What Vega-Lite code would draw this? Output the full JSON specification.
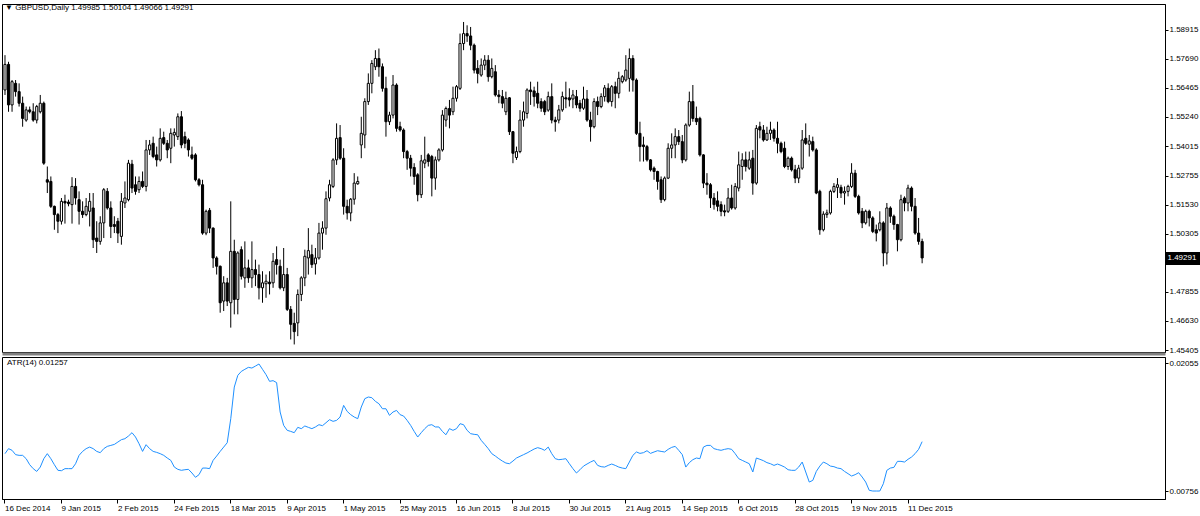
{
"$schema":"https://vega.github.io/schema/vega-lite/v6.json",
"background":"white",
"padding":{"left":1,"top":3,"right":0,"bottom":0},
"spacing":1,
"config":{"view":{"stroke":"#000","strokeWidth":1},"font":"Liberation Sans","title":{"font":"Liberation Sans","fontSize":8,"fontWeight":"normal","color":"#000","anchor":"start","frame":"group"}},
"datasets":{"pad":["2015-12-18","2015-12-21","2015-12-22","2015-12-23","2015-12-24","2015-12-25","2015-12-28","2015-12-29","2015-12-30","2015-12-31"]},
"data":{"values":[
{"d":"2014-12-16","o":1.5638,"h":1.5785,"l":1.5617,"c":1.5746,"a":0.01135},
{"d":"2014-12-17","o":1.5746,"h":1.5757,"l":1.5546,"c":1.5575,"a":0.01186},
{"d":"2014-12-18","o":1.5575,"h":1.5680,"l":1.5546,"c":1.5673,"a":0.01169},
{"d":"2014-12-19","o":1.5666,"h":1.5680,"l":1.5610,"c":1.5631,"a":0.01125},
{"d":"2014-12-22","o":1.5631,"h":1.5666,"l":1.5568,"c":1.5582,"a":0.01118},
{"d":"2014-12-23","o":1.5582,"h":1.5610,"l":1.5483,"c":1.5518,"a":0.01118},
{"d":"2014-12-24","o":1.5511,"h":1.5568,"l":1.5504,"c":1.5554,"a":0.01084},
{"d":"2014-12-26","o":1.5554,"h":1.5568,"l":1.5539,"c":1.5546,"a":0.01023},
{"d":"2014-12-29","o":1.5546,"h":1.5582,"l":1.5504,"c":1.5511,"a":0.00983},
{"d":"2014-12-30","o":1.5511,"h":1.5575,"l":1.5497,"c":1.5568,"a":0.00955},
{"d":"2014-12-31","o":1.5546,"h":1.5617,"l":1.5539,"c":1.5582,"a":0.00999},
{"d":"2015-01-02","o":1.5582,"h":1.5589,"l":1.5322,"c":1.5329,"a":0.01084},
{"d":"2015-01-05","o":1.5259,"h":1.5315,"l":1.5203,"c":1.5249,"a":0.01135},
{"d":"2015-01-06","o":1.5252,"h":1.5273,"l":1.5140,"c":1.5147,"a":0.01084},
{"d":"2015-01-07","o":1.5147,"h":1.5150,"l":1.5048,"c":1.5112,"a":0.01023},
{"d":"2015-01-08","o":1.5112,"h":1.5119,"l":1.5034,"c":1.5084,"a":0.00966},
{"d":"2015-01-09","o":1.5084,"h":1.5182,"l":1.5070,"c":1.5168,"a":0.00962},
{"d":"2015-01-12","o":1.5168,"h":1.5196,"l":1.5074,"c":1.5161,"a":0.00983},
{"d":"2015-01-13","o":1.5165,"h":1.5175,"l":1.5147,"c":1.5158,"a":0.00983},
{"d":"2015-01-14","o":1.5154,"h":1.5270,"l":1.5074,"c":1.5231,"a":0.00983},
{"d":"2015-01-15","o":1.5231,"h":1.5266,"l":1.5154,"c":1.5182,"a":0.01033},
{"d":"2015-01-16","o":1.5175,"h":1.5210,"l":1.5070,"c":1.5126,"a":0.01118},
{"d":"2015-01-19","o":1.5126,"h":1.5168,"l":1.5098,"c":1.5112,"a":0.01158},
{"d":"2015-01-20","o":1.5112,"h":1.5182,"l":1.5105,"c":1.5147,"a":0.01186},
{"d":"2015-01-21","o":1.5126,"h":1.5203,"l":1.5062,"c":1.5168,"a":0.01202},
{"d":"2015-01-22","o":1.5140,"h":1.5203,"l":1.4971,"c":1.5006,"a":0.01186},
{"d":"2015-01-23","o":1.5013,"h":1.5084,"l":1.4950,"c":1.4999,"a":0.01158},
{"d":"2015-01-26","o":1.4999,"h":1.5105,"l":1.4985,"c":1.5077,"a":0.01145},
{"d":"2015-01-27","o":1.5077,"h":1.5224,"l":1.5013,"c":1.5217,"a":0.01186},
{"d":"2015-01-28","o":1.5210,"h":1.5224,"l":1.5133,"c":1.5140,"a":0.01209},
{"d":"2015-01-29","o":1.5140,"h":1.5168,"l":1.5013,"c":1.5062,"a":0.01219},
{"d":"2015-01-30","o":1.5070,"h":1.5105,"l":1.5034,"c":1.5062,"a":0.01229},
{"d":"2015-02-02","o":1.5084,"h":1.5098,"l":1.4992,"c":1.5034,"a":0.01253},
{"d":"2015-02-03","o":1.5020,"h":1.5203,"l":1.4985,"c":1.5168,"a":0.01277},
{"d":"2015-02-04","o":1.5161,"h":1.5252,"l":1.5140,"c":1.5182,"a":0.01287},
{"d":"2015-02-05","o":1.5175,"h":1.5343,"l":1.5168,"c":1.5329,"a":0.01314},
{"d":"2015-02-06","o":1.5325,"h":1.5343,"l":1.5203,"c":1.5224,"a":0.01348},
{"d":"2015-02-09","o":1.5238,"h":1.5273,"l":1.5196,"c":1.5210,"a":0.01304},
{"d":"2015-02-10","o":1.5217,"h":1.5273,"l":1.5203,"c":1.5252,"a":0.01236},
{"d":"2015-02-11","o":1.5252,"h":1.5294,"l":1.5224,"c":1.5231,"a":0.01158},
{"d":"2015-02-12","o":1.5231,"h":1.5427,"l":1.5210,"c":1.5385,"a":0.01226},
{"d":"2015-02-13","o":1.5385,"h":1.5427,"l":1.5364,"c":1.5406,"a":0.01186},
{"d":"2015-02-16","o":1.5413,"h":1.5441,"l":1.5350,"c":1.5357,"a":0.01158},
{"d":"2015-02-17","o":1.5364,"h":1.5399,"l":1.5315,"c":1.5343,"a":0.01148},
{"d":"2015-02-18","o":1.5343,"h":1.5476,"l":1.5336,"c":1.5434,"a":0.01135},
{"d":"2015-02-19","o":1.5437,"h":1.5462,"l":1.5406,"c":1.5413,"a":0.01118},
{"d":"2015-02-20","o":1.5413,"h":1.5427,"l":1.5350,"c":1.5385,"a":0.01091},
{"d":"2015-02-23","o":1.5392,"h":1.5476,"l":1.5329,"c":1.5455,"a":0.01067},
{"d":"2015-02-24","o":1.5448,"h":1.5476,"l":1.5399,"c":1.5459,"a":0.00999},
{"d":"2015-02-25","o":1.5441,"h":1.5539,"l":1.5427,"c":1.5525,"a":0.00976},
{"d":"2015-02-26","o":1.5525,"h":1.5549,"l":1.5392,"c":1.5406,"a":0.00966},
{"d":"2015-02-27","o":1.5441,"h":1.5462,"l":1.5392,"c":1.5413,"a":0.00972},
{"d":"2015-03-02","o":1.5427,"h":1.5434,"l":1.5357,"c":1.5385,"a":0.00976},
{"d":"2015-03-03","o":1.5364,"h":1.5399,"l":1.5343,"c":1.5350,"a":0.00939},
{"d":"2015-03-04","o":1.5364,"h":1.5371,"l":1.5252,"c":1.5259,"a":0.00895},
{"d":"2015-03-05","o":1.5259,"h":1.5266,"l":1.5231,"c":1.5238,"a":0.00922},
{"d":"2015-03-06","o":1.5238,"h":1.5259,"l":1.5027,"c":1.5034,"a":0.00989},
{"d":"2015-03-09","o":1.5034,"h":1.5133,"l":1.5025,"c":1.5126,"a":0.00989},
{"d":"2015-03-10","o":1.5130,"h":1.5140,"l":1.5034,"c":1.5055,"a":0.00983},
{"d":"2015-03-11","o":1.5055,"h":1.5058,"l":1.4887,"c":1.4929,"a":0.01067},
{"d":"2015-03-12","o":1.4929,"h":1.4936,"l":1.4859,"c":1.4894,"a":0.01111},
{"d":"2015-03-13","o":1.4894,"h":1.4897,"l":1.4698,"c":1.4740,"a":0.01158},
{"d":"2015-03-16","o":1.4747,"h":1.4852,"l":1.4705,"c":1.4824,"a":0.01202},
{"d":"2015-03-17","o":1.4824,"h":1.4845,"l":1.4726,"c":1.4747,"a":0.01246},
{"d":"2015-03-18","o":1.4740,"h":1.5168,"l":1.4635,"c":1.4957,"a":0.01490},
{"d":"2015-03-19","o":1.4957,"h":1.5006,"l":1.4691,"c":1.4754,"a":0.01811},
{"d":"2015-03-20","o":1.4754,"h":1.4957,"l":1.4691,"c":1.4950,"a":0.01930},
{"d":"2015-03-23","o":1.4964,"h":1.4978,"l":1.4838,"c":1.4852,"a":0.01970},
{"d":"2015-03-24","o":1.4845,"h":1.4999,"l":1.4803,"c":1.4887,"a":0.01991},
{"d":"2015-03-25","o":1.4887,"h":1.4922,"l":1.4824,"c":1.4845,"a":0.02011},
{"d":"2015-03-26","o":1.4845,"h":1.4999,"l":1.4803,"c":1.4880,"a":0.02004},
{"d":"2015-03-27","o":1.4880,"h":1.4922,"l":1.4810,"c":1.4859,"a":0.02024},
{"d":"2015-03-30","o":1.4859,"h":1.4901,"l":1.4754,"c":1.4803,"a":0.02045},
{"d":"2015-03-31","o":1.4803,"h":1.4873,"l":1.4740,"c":1.4824,"a":0.01991},
{"d":"2015-04-01","o":1.4820,"h":1.4859,"l":1.4761,"c":1.4831,"a":0.01937},
{"d":"2015-04-02","o":1.4827,"h":1.4873,"l":1.4775,"c":1.4820,"a":0.01869},
{"d":"2015-04-03","o":1.4824,"h":1.4950,"l":1.4803,"c":1.4915,"a":0.01876},
{"d":"2015-04-06","o":1.4922,"h":1.4978,"l":1.4859,"c":1.4901,"a":0.01856},
{"d":"2015-04-07","o":1.4894,"h":1.4922,"l":1.4796,"c":1.4803,"a":0.01558},
{"d":"2015-04-08","o":1.4803,"h":1.4971,"l":1.4789,"c":1.4859,"a":0.01422},
{"d":"2015-04-09","o":1.4859,"h":1.4887,"l":1.4705,"c":1.4712,"a":0.01372},
{"d":"2015-04-10","o":1.4712,"h":1.4726,"l":1.4585,"c":1.4649,"a":0.01361},
{"d":"2015-04-13","o":1.4653,"h":1.4698,"l":1.4564,"c":1.4618,"a":0.01348},
{"d":"2015-04-14","o":1.4655,"h":1.4796,"l":1.4599,"c":1.4775,"a":0.01402},
{"d":"2015-04-15","o":1.4775,"h":1.4852,"l":1.4747,"c":1.4845,"a":0.01389},
{"d":"2015-04-16","o":1.4845,"h":1.4964,"l":1.4810,"c":1.4936,"a":0.01416},
{"d":"2015-04-17","o":1.4929,"h":1.5055,"l":1.4859,"c":1.4960,"a":0.01402},
{"d":"2015-04-20","o":1.4943,"h":1.4985,"l":1.4887,"c":1.4901,"a":0.01389},
{"d":"2015-04-21","o":1.4904,"h":1.4971,"l":1.4859,"c":1.4929,"a":0.01406},
{"d":"2015-04-22","o":1.4929,"h":1.5077,"l":1.4922,"c":1.5034,"a":0.01429},
{"d":"2015-04-23","o":1.5034,"h":1.5084,"l":1.4964,"c":1.5055,"a":0.01419},
{"d":"2015-04-24","o":1.5055,"h":1.5210,"l":1.5027,"c":1.5179,"a":0.01449},
{"d":"2015-04-27","o":1.5182,"h":1.5259,"l":1.5168,"c":1.5238,"a":0.01480},
{"d":"2015-04-28","o":1.5231,"h":1.5350,"l":1.5224,"c":1.5343,"a":0.01463},
{"d":"2015-04-29","o":1.5343,"h":1.5497,"l":1.5322,"c":1.5434,"a":0.01473},
{"d":"2015-04-30","o":1.5437,"h":1.5490,"l":1.5343,"c":1.5350,"a":0.01507},
{"d":"2015-05-01","o":1.5350,"h":1.5392,"l":1.5112,"c":1.5147,"a":0.01625},
{"d":"2015-05-04","o":1.5147,"h":1.5175,"l":1.5091,"c":1.5119,"a":0.01564},
{"d":"2015-05-05","o":1.5119,"h":1.5182,"l":1.5084,"c":1.5177,"a":0.01531},
{"d":"2015-05-06","o":1.5177,"h":1.5287,"l":1.5154,"c":1.5245,"a":0.01507},
{"d":"2015-05-07","o":1.5242,"h":1.5273,"l":1.5238,"c":1.5252,"a":0.01490},
{"d":"2015-05-08","o":1.5406,"h":1.5525,"l":1.5350,"c":1.5455,"a":0.01608},
{"d":"2015-05-11","o":1.5448,"h":1.5603,"l":1.5392,"c":1.5589,"a":0.01693},
{"d":"2015-05-12","o":1.5589,"h":1.5708,"l":1.5575,"c":1.5666,"a":0.01710},
{"d":"2015-05-13","o":1.5666,"h":1.5764,"l":1.5624,"c":1.5750,"a":0.01703},
{"d":"2015-05-14","o":1.5736,"h":1.5806,"l":1.5722,"c":1.5771,"a":0.01666},
{"d":"2015-05-15","o":1.5771,"h":1.5813,"l":1.5694,"c":1.5736,"a":0.01642},
{"d":"2015-05-18","o":1.5736,"h":1.5750,"l":1.5631,"c":1.5645,"a":0.01591},
{"d":"2015-05-19","o":1.5645,"h":1.5694,"l":1.5441,"c":1.5504,"a":0.01591},
{"d":"2015-05-20","o":1.5504,"h":1.5546,"l":1.5490,"c":1.5532,"a":0.01524},
{"d":"2015-05-21","o":1.5532,"h":1.5701,"l":1.5518,"c":1.5659,"a":0.01558},
{"d":"2015-05-22","o":1.5659,"h":1.5666,"l":1.5462,"c":1.5476,"a":0.01574},
{"d":"2015-05-25","o":1.5483,"h":1.5504,"l":1.5462,"c":1.5469,"a":0.01531},
{"d":"2015-05-26","o":1.5469,"h":1.5476,"l":1.5350,"c":1.5378,"a":0.01517},
{"d":"2015-05-27","o":1.5378,"h":1.5385,"l":1.5301,"c":1.5350,"a":0.01473},
{"d":"2015-05-28","o":1.5350,"h":1.5364,"l":1.5273,"c":1.5308,"a":0.01422},
{"d":"2015-05-29","o":1.5311,"h":1.5329,"l":1.5238,"c":1.5273,"a":0.01361},
{"d":"2015-06-01","o":1.5280,"h":1.5287,"l":1.5168,"c":1.5196,"a":0.01304},
{"d":"2015-06-02","o":1.5196,"h":1.5364,"l":1.5182,"c":1.5339,"a":0.01348},
{"d":"2015-06-03","o":1.5329,"h":1.5441,"l":1.5308,"c":1.5343,"a":0.01389},
{"d":"2015-06-04","o":1.5364,"h":1.5371,"l":1.5315,"c":1.5336,"a":0.01422},
{"d":"2015-06-05","o":1.5357,"h":1.5364,"l":1.5189,"c":1.5266,"a":0.01429},
{"d":"2015-06-08","o":1.5266,"h":1.5357,"l":1.5217,"c":1.5343,"a":0.01406},
{"d":"2015-06-09","o":1.5343,"h":1.5392,"l":1.5336,"c":1.5385,"a":0.01406},
{"d":"2015-06-10","o":1.5385,"h":1.5553,"l":1.5378,"c":1.5532,"a":0.01361},
{"d":"2015-06-11","o":1.5511,"h":1.5568,"l":1.5483,"c":1.5560,"a":0.01327},
{"d":"2015-06-12","o":1.5560,"h":1.5596,"l":1.5476,"c":1.5532,"a":0.01389},
{"d":"2015-06-15","o":1.5546,"h":1.5652,"l":1.5532,"c":1.5603,"a":0.01372},
{"d":"2015-06-16","o":1.5603,"h":1.5659,"l":1.5589,"c":1.5652,"a":0.01389},
{"d":"2015-06-17","o":1.5645,"h":1.5876,"l":1.5638,"c":1.5834,"a":0.01439},
{"d":"2015-06-18","o":1.5834,"h":1.5925,"l":1.5806,"c":1.5876,"a":0.01429},
{"d":"2015-06-19","o":1.5876,"h":1.5911,"l":1.5841,"c":1.5866,"a":0.01372},
{"d":"2015-06-22","o":1.5866,"h":1.5904,"l":1.5806,"c":1.5827,"a":0.01338},
{"d":"2015-06-23","o":1.5827,"h":1.5834,"l":1.5708,"c":1.5722,"a":0.01331},
{"d":"2015-06-24","o":1.5729,"h":1.5764,"l":1.5666,"c":1.5708,"a":0.01327},
{"d":"2015-06-25","o":1.5701,"h":1.5771,"l":1.5694,"c":1.5743,"a":0.01270},
{"d":"2015-06-26","o":1.5743,"h":1.5785,"l":1.5722,"c":1.5764,"a":0.01229},
{"d":"2015-06-29","o":1.5764,"h":1.5785,"l":1.5673,"c":1.5694,"a":0.01186},
{"d":"2015-06-30","o":1.5694,"h":1.5771,"l":1.5687,"c":1.5729,"a":0.01135},
{"d":"2015-07-01","o":1.5715,"h":1.5743,"l":1.5610,"c":1.5617,"a":0.01111},
{"d":"2015-07-02","o":1.5617,"h":1.5638,"l":1.5582,"c":1.5610,"a":0.01084},
{"d":"2015-07-03","o":1.5610,"h":1.5638,"l":1.5561,"c":1.5582,"a":0.01060},
{"d":"2015-07-06","o":1.5546,"h":1.5631,"l":1.5532,"c":1.5603,"a":0.01040},
{"d":"2015-07-07","o":1.5605,"h":1.5608,"l":1.5448,"c":1.5462,"a":0.01033},
{"d":"2015-07-08","o":1.5462,"h":1.5465,"l":1.5329,"c":1.5371,"a":0.01060},
{"d":"2015-07-09","o":1.5353,"h":1.5399,"l":1.5343,"c":1.5378,"a":0.01091},
{"d":"2015-07-10","o":1.5378,"h":1.5553,"l":1.5371,"c":1.5511,"a":0.01108},
{"d":"2015-07-13","o":1.5511,"h":1.5589,"l":1.5483,"c":1.5546,"a":0.01125},
{"d":"2015-07-14","o":1.5539,"h":1.5645,"l":1.5518,"c":1.5638,"a":0.01142},
{"d":"2015-07-15","o":1.5638,"h":1.5673,"l":1.5575,"c":1.5631,"a":0.01162},
{"d":"2015-07-16","o":1.5634,"h":1.5652,"l":1.5568,"c":1.5610,"a":0.01182},
{"d":"2015-07-17","o":1.5624,"h":1.5673,"l":1.5561,"c":1.5582,"a":0.01196},
{"d":"2015-07-20","o":1.5589,"h":1.5603,"l":1.5546,"c":1.5561,"a":0.01186},
{"d":"2015-07-21","o":1.5589,"h":1.5596,"l":1.5532,"c":1.5546,"a":0.01169},
{"d":"2015-07-22","o":1.5553,"h":1.5631,"l":1.5546,"c":1.5610,"a":0.01202},
{"d":"2015-07-23","o":1.5610,"h":1.5666,"l":1.5497,"c":1.5511,"a":0.01135},
{"d":"2015-07-24","o":1.5511,"h":1.5525,"l":1.5462,"c":1.5504,"a":0.01084},
{"d":"2015-07-27","o":1.5511,"h":1.5575,"l":1.5497,"c":1.5554,"a":0.01074},
{"d":"2015-07-28","o":1.5554,"h":1.5631,"l":1.5546,"c":1.5610,"a":0.01078},
{"d":"2015-07-29","o":1.5605,"h":1.5673,"l":1.5561,"c":1.5600,"a":0.01084},
{"d":"2015-07-30","o":1.5605,"h":1.5645,"l":1.5568,"c":1.5596,"a":0.01033},
{"d":"2015-07-31","o":1.5600,"h":1.5638,"l":1.5561,"c":1.5617,"a":0.00983},
{"d":"2015-08-03","o":1.5610,"h":1.5638,"l":1.5561,"c":1.5575,"a":0.00939},
{"d":"2015-08-04","o":1.5582,"h":1.5596,"l":1.5546,"c":1.5561,"a":0.00972},
{"d":"2015-08-05","o":1.5561,"h":1.5652,"l":1.5554,"c":1.5600,"a":0.01009},
{"d":"2015-08-06","o":1.5600,"h":1.5638,"l":1.5504,"c":1.5511,"a":0.01030},
{"d":"2015-08-07","o":1.5511,"h":1.5546,"l":1.5420,"c":1.5483,"a":0.01050},
{"d":"2015-08-10","o":1.5483,"h":1.5603,"l":1.5476,"c":1.5589,"a":0.01067},
{"d":"2015-08-11","o":1.5589,"h":1.5610,"l":1.5532,"c":1.5568,"a":0.01016},
{"d":"2015-08-12","o":1.5568,"h":1.5624,"l":1.5561,"c":1.5610,"a":0.01003},
{"d":"2015-08-13","o":1.5610,"h":1.5659,"l":1.5589,"c":1.5647,"a":0.00999},
{"d":"2015-08-14","o":1.5645,"h":1.5666,"l":1.5582,"c":1.5589,"a":0.01016},
{"d":"2015-08-17","o":1.5589,"h":1.5659,"l":1.5568,"c":1.5652,"a":0.01030},
{"d":"2015-08-18","o":1.5652,"h":1.5673,"l":1.5561,"c":1.5624,"a":0.01016},
{"d":"2015-08-19","o":1.5624,"h":1.5715,"l":1.5603,"c":1.5687,"a":0.00999},
{"d":"2015-08-20","o":1.5673,"h":1.5701,"l":1.5666,"c":1.5694,"a":0.00989},
{"d":"2015-08-21","o":1.5680,"h":1.5785,"l":1.5673,"c":1.5722,"a":0.00983},
{"d":"2015-08-24","o":1.5687,"h":1.5813,"l":1.5631,"c":1.5771,"a":0.01050},
{"d":"2015-08-25","o":1.5771,"h":1.5785,"l":1.5631,"c":1.5680,"a":0.01118},
{"d":"2015-08-26","o":1.5680,"h":1.5687,"l":1.5448,"c":1.5455,"a":0.01152},
{"d":"2015-08-27","o":1.5455,"h":1.5504,"l":1.5336,"c":1.5399,"a":0.01138},
{"d":"2015-08-28","o":1.5406,"h":1.5441,"l":1.5336,"c":1.5399,"a":0.01145},
{"d":"2015-08-31","o":1.5399,"h":1.5406,"l":1.5336,"c":1.5343,"a":0.01165},
{"d":"2015-09-01","o":1.5343,"h":1.5346,"l":1.5294,"c":1.5301,"a":0.01138},
{"d":"2015-09-02","o":1.5308,"h":1.5315,"l":1.5259,"c":1.5294,"a":0.01152},
{"d":"2015-09-03","o":1.5294,"h":1.5297,"l":1.5217,"c":1.5252,"a":0.01165},
{"d":"2015-09-04","o":1.5259,"h":1.5273,"l":1.5161,"c":1.5175,"a":0.01158},
{"d":"2015-09-07","o":1.5175,"h":1.5273,"l":1.5168,"c":1.5266,"a":0.01152},
{"d":"2015-09-08","o":1.5266,"h":1.5413,"l":1.5262,"c":1.5392,"a":0.01179},
{"d":"2015-09-09","o":1.5392,"h":1.5455,"l":1.5350,"c":1.5406,"a":0.01199},
{"d":"2015-09-10","o":1.5406,"h":1.5476,"l":1.5350,"c":1.5441,"a":0.01209},
{"d":"2015-09-11","o":1.5441,"h":1.5469,"l":1.5406,"c":1.5420,"a":0.01169},
{"d":"2015-09-14","o":1.5420,"h":1.5448,"l":1.5329,"c":1.5343,"a":0.01125},
{"d":"2015-09-15","o":1.5343,"h":1.5497,"l":1.5336,"c":1.5490,"a":0.00999},
{"d":"2015-09-16","o":1.5490,"h":1.5631,"l":1.5483,"c":1.5589,"a":0.01044},
{"d":"2015-09-17","o":1.5589,"h":1.5659,"l":1.5504,"c":1.5518,"a":0.01074},
{"d":"2015-09-18","o":1.5518,"h":1.5568,"l":1.5490,"c":1.5504,"a":0.01091},
{"d":"2015-09-21","o":1.5518,"h":1.5525,"l":1.5357,"c":1.5364,"a":0.01084},
{"d":"2015-09-22","o":1.5364,"h":1.5367,"l":1.5224,"c":1.5245,"a":0.01202},
{"d":"2015-09-23","o":1.5245,"h":1.5287,"l":1.5196,"c":1.5238,"a":0.01219},
{"d":"2015-09-24","o":1.5238,"h":1.5245,"l":1.5140,"c":1.5182,"a":0.01219},
{"d":"2015-09-25","o":1.5182,"h":1.5203,"l":1.5133,"c":1.5154,"a":0.01186},
{"d":"2015-09-28","o":1.5170,"h":1.5210,"l":1.5126,"c":1.5147,"a":0.01176},
{"d":"2015-09-29","o":1.5154,"h":1.5168,"l":1.5105,"c":1.5126,"a":0.01169},
{"d":"2015-09-30","o":1.5128,"h":1.5154,"l":1.5105,"c":1.5123,"a":0.01179},
{"d":"2015-10-01","o":1.5126,"h":1.5224,"l":1.5119,"c":1.5182,"a":0.01186},
{"d":"2015-10-02","o":1.5182,"h":1.5238,"l":1.5133,"c":1.5140,"a":0.01179},
{"d":"2015-10-05","o":1.5140,"h":1.5245,"l":1.5133,"c":1.5231,"a":0.01135},
{"d":"2015-10-06","o":1.5224,"h":1.5378,"l":1.5210,"c":1.5322,"a":0.01084},
{"d":"2015-10-07","o":1.5315,"h":1.5371,"l":1.5259,"c":1.5343,"a":0.01067},
{"d":"2015-10-08","o":1.5343,"h":1.5378,"l":1.5294,"c":1.5315,"a":0.01050},
{"d":"2015-10-09","o":1.5308,"h":1.5378,"l":1.5301,"c":1.5343,"a":0.01033},
{"d":"2015-10-12","o":1.5350,"h":1.5385,"l":1.5196,"c":1.5245,"a":0.00949},
{"d":"2015-10-13","o":1.5245,"h":1.5490,"l":1.5238,"c":1.5476,"a":0.01091},
{"d":"2015-10-14","o":1.5483,"h":1.5504,"l":1.5434,"c":1.5469,"a":0.01078},
{"d":"2015-10-15","o":1.5469,"h":1.5490,"l":1.5420,"c":1.5427,"a":0.01064},
{"d":"2015-10-16","o":1.5427,"h":1.5483,"l":1.5423,"c":1.5455,"a":0.01044},
{"d":"2015-10-19","o":1.5455,"h":1.5504,"l":1.5427,"c":1.5469,"a":0.01033},
{"d":"2015-10-20","o":1.5469,"h":1.5476,"l":1.5420,"c":1.5434,"a":0.01016},
{"d":"2015-10-21","o":1.5434,"h":1.5504,"l":1.5371,"c":1.5413,"a":0.01030},
{"d":"2015-10-22","o":1.5413,"h":1.5420,"l":1.5371,"c":1.5378,"a":0.01016},
{"d":"2015-10-23","o":1.5392,"h":1.5420,"l":1.5308,"c":1.5315,"a":0.00999},
{"d":"2015-10-26","o":1.5315,"h":1.5357,"l":1.5301,"c":1.5350,"a":0.00972},
{"d":"2015-10-27","o":1.5350,"h":1.5357,"l":1.5294,"c":1.5301,"a":0.00966},
{"d":"2015-10-28","o":1.5301,"h":1.5322,"l":1.5245,"c":1.5266,"a":0.00966},
{"d":"2015-10-29","o":1.5266,"h":1.5322,"l":1.5245,"c":1.5308,"a":0.00999},
{"d":"2015-10-30","o":1.5308,"h":1.5469,"l":1.5301,"c":1.5427,"a":0.01050},
{"d":"2015-11-02","o":1.5434,"h":1.5497,"l":1.5406,"c":1.5413,"a":0.00949},
{"d":"2015-11-03","o":1.5409,"h":1.5448,"l":1.5357,"c":1.5423,"a":0.00847},
{"d":"2015-11-04","o":1.5420,"h":1.5441,"l":1.5378,"c":1.5385,"a":0.00864},
{"d":"2015-11-05","o":1.5385,"h":1.5392,"l":1.5198,"c":1.5203,"a":0.00955},
{"d":"2015-11-06","o":1.5210,"h":1.5217,"l":1.5027,"c":1.5048,"a":0.01009},
{"d":"2015-11-09","o":1.5048,"h":1.5126,"l":1.5041,"c":1.5114,"a":0.01050},
{"d":"2015-11-10","o":1.5112,"h":1.5133,"l":1.5098,"c":1.5119,"a":0.01033},
{"d":"2015-11-11","o":1.5119,"h":1.5217,"l":1.5112,"c":1.5210,"a":0.01009},
{"d":"2015-11-12","o":1.5210,"h":1.5245,"l":1.5203,"c":1.5231,"a":0.01003},
{"d":"2015-11-13","o":1.5227,"h":1.5266,"l":1.5182,"c":1.5238,"a":0.00989},
{"d":"2015-11-16","o":1.5227,"h":1.5238,"l":1.5182,"c":1.5203,"a":0.00983},
{"d":"2015-11-17","o":1.5203,"h":1.5231,"l":1.5154,"c":1.5210,"a":0.00955},
{"d":"2015-11-18","o":1.5210,"h":1.5238,"l":1.5189,"c":1.5231,"a":0.00932},
{"d":"2015-11-19","o":1.5231,"h":1.5329,"l":1.5224,"c":1.5287,"a":0.00908},
{"d":"2015-11-20","o":1.5287,"h":1.5301,"l":1.5182,"c":1.5189,"a":0.00922},
{"d":"2015-11-23","o":1.5189,"h":1.5196,"l":1.5112,"c":1.5119,"a":0.00942},
{"d":"2015-11-24","o":1.5126,"h":1.5140,"l":1.5055,"c":1.5077,"a":0.00898},
{"d":"2015-11-25","o":1.5077,"h":1.5133,"l":1.5070,"c":1.5126,"a":0.00847},
{"d":"2015-11-26","o":1.5126,"h":1.5133,"l":1.5062,"c":1.5098,"a":0.00763},
{"d":"2015-11-27","o":1.5098,"h":1.5105,"l":1.5034,"c":1.5041,"a":0.00756},
{"d":"2015-11-30","o":1.5048,"h":1.5070,"l":1.4999,"c":1.5034,"a":0.00756},
{"d":"2015-12-01","o":1.5048,"h":1.5126,"l":1.5041,"c":1.5077,"a":0.00756},
{"d":"2015-12-02","o":1.5077,"h":1.5084,"l":1.4894,"c":1.4950,"a":0.00830},
{"d":"2015-12-03","o":1.4950,"h":1.5161,"l":1.4901,"c":1.5140,"a":0.00966},
{"d":"2015-12-04","o":1.5140,"h":1.5147,"l":1.5077,"c":1.5105,"a":0.00989},
{"d":"2015-12-07","o":1.5105,"h":1.5112,"l":1.5048,"c":1.5070,"a":0.00996},
{"d":"2015-12-08","o":1.5070,"h":1.5073,"l":1.4957,"c":1.5006,"a":0.01057},
{"d":"2015-12-09","o":1.5006,"h":1.5196,"l":1.4999,"c":1.5175,"a":0.01057},
{"d":"2015-12-10","o":1.5182,"h":1.5189,"l":1.5126,"c":1.5161,"a":0.01050},
{"d":"2015-12-11","o":1.5161,"h":1.5238,"l":1.5126,"c":1.5224,"a":0.01078},
{"d":"2015-12-14","o":1.5224,"h":1.5231,"l":1.5126,"c":1.5147,"a":0.01101},
{"d":"2015-12-15","o":1.5147,"h":1.5182,"l":1.5027,"c":1.5034,"a":0.01135},
{"d":"2015-12-16","o":1.5034,"h":1.5098,"l":1.4985,"c":1.4999,"a":0.01179},
{"d":"2015-12-17","o":1.49985,"h":1.50104,"l":1.49066,"c":1.49291,"a":0.01257}
]},
"vconcat":[
{
"width":1163,"height":348,
"title":{"text":"▼  GBPUSD,Daily  1.49985 1.50104 1.49066 1.49291","offset":-8,"dx":3},
"encoding":{"x":{"field":"d","type":"ordinal","scale":{"type":"band","paddingInner":0,"paddingOuter":0.35,"domain":{"unionWith":["2015-12-18","2015-12-21","2015-12-22","2015-12-23","2015-12-24","2015-12-25","2015-12-28","2015-12-29","2015-12-30","2015-12-31","2016-01-01","2016-01-04","2016-01-05","2016-01-06","2016-01-07","2016-01-08","2016-01-11","2016-01-12","2016-01-13","2016-01-14","2016-01-15","2016-01-18","2016-01-19","2016-01-20","2016-01-21","2016-01-22","2016-01-25","2016-01-26","2016-01-27","2016-01-28","2016-01-29","2016-02-01","2016-02-02","2016-02-03","2016-02-04","2016-02-05","2016-02-08","2016-02-09","2016-02-10","2016-02-11","2016-02-12","2016-02-15","2016-02-16","2016-02-17","2016-02-18","2016-02-19","2016-02-22","2016-02-23","2016-02-24","2016-02-25","2016-02-26","2016-02-29","2016-03-01","2016-03-02","2016-03-03","2016-03-04","2016-03-07","2016-03-08","2016-03-09","2016-03-10","2016-03-11","2016-03-14","2016-03-15","2016-03-16","2016-03-17","2016-03-18","2016-03-21","2016-03-22"]}},"axis":{"labels":false,"ticks":false,"title":null,"domainColor":"#808080","domainWidth":3,"offset":1.5}}},
"layer":[
{"mark":{"type":"rule","color":"#000","strokeWidth":1,"clip":true},
"encoding":{"y":{"field":"l","type":"quantitative","scale":{"domain":[1.45321,1.60009],"zero":false,"nice":false},
"axis":{"orient":"right","title":null,"grid":false,"values":[1.45405,1.4663,1.47855,1.4908,1.50305,1.5153,1.52755,1.54015,1.5524,1.56465,1.5769,1.58915,1.49291],"labelExpr":"format(datum.value, '.5f')","domainColor":"#000","tickColor":"#000","tickSize":{"condition":{"test":"datum.value == 1.49291","value":35},"value":3},"tickWidth":{"condition":{"test":"datum.value == 1.49291","value":13},"value":1},"labelColor":{"condition":{"test":"datum.value == 1.49291","value":"#ffffff"},"value":"#000000"},"labelPadding":{"condition":{"test":"datum.value == 1.49291","value":-33},"value":1},"labelAlign":"left","labelBaseline":"middle","labelFont":"Liberation Sans","labelFontSize":8,"labelOverlap":false,"labelBound":false,"labelFlush":false}},
"y2":{"field":"h"}}},
{"mark":{"type":"bar","width":{"band":0.6},"stroke":"#000","strokeWidth":1,"clip":true},
"encoding":{"y":{"field":"o","type":"quantitative","scale":{"domain":[1.45321,1.60009],"zero":false,"nice":false},
"axis":{"orient":"right","title":null,"grid":false,"values":[1.45405,1.4663,1.47855,1.4908,1.50305,1.5153,1.52755,1.54015,1.5524,1.56465,1.5769,1.58915,1.49291],"labelExpr":"format(datum.value, '.5f')","domainColor":"#000","tickColor":"#000","tickSize":{"condition":{"test":"datum.value == 1.49291","value":35},"value":3},"tickWidth":{"condition":{"test":"datum.value == 1.49291","value":13},"value":1},"labelColor":{"condition":{"test":"datum.value == 1.49291","value":"#ffffff"},"value":"#000000"},"labelPadding":{"condition":{"test":"datum.value == 1.49291","value":-33},"value":1},"labelAlign":"left","labelBaseline":"middle","labelFont":"Liberation Sans","labelFontSize":8,"labelOverlap":false,"labelBound":false,"labelFlush":false}},
"y2":{"field":"c"},
"fill":{"condition":{"test":"datum.c >= datum.o","value":"#ffffff"},"value":"#000000"}}}
]
},
{
"width":1163,"height":142,
"title":{"text":"ATR(14) 0.01257","offset":-10,"dx":5},
"mark":{"type":"line","color":"#1E90FF","strokeWidth":1,"clip":true},
"encoding":{
"x":{"field":"d","type":"ordinal","scale":{"type":"band","paddingInner":0,"paddingOuter":0.35,"domain":{"unionWith":["2015-12-18","2015-12-21","2015-12-22","2015-12-23","2015-12-24","2015-12-25","2015-12-28","2015-12-29","2015-12-30","2015-12-31","2016-01-01","2016-01-04","2016-01-05","2016-01-06","2016-01-07","2016-01-08","2016-01-11","2016-01-12","2016-01-13","2016-01-14","2016-01-15","2016-01-18","2016-01-19","2016-01-20","2016-01-21","2016-01-22","2016-01-25","2016-01-26","2016-01-27","2016-01-28","2016-01-29","2016-02-01","2016-02-02","2016-02-03","2016-02-04","2016-02-05","2016-02-08","2016-02-09","2016-02-10","2016-02-11","2016-02-12","2016-02-15","2016-02-16","2016-02-17","2016-02-18","2016-02-19","2016-02-22","2016-02-23","2016-02-24","2016-02-25","2016-02-26","2016-02-29","2016-03-01","2016-03-02","2016-03-03","2016-03-04","2016-03-07","2016-03-08","2016-03-09","2016-03-10","2016-03-11","2016-03-14","2016-03-15","2016-03-16","2016-03-17","2016-03-18","2016-03-21","2016-03-22"]}},
"axis":{"title":null,"values":["2014-12-16","2015-01-09","2015-02-02","2015-02-24","2015-03-18","2015-04-09","2015-05-01","2015-05-25","2015-06-16","2015-07-08","2015-07-30","2015-08-21","2015-09-14","2015-10-06","2015-10-28","2015-11-19","2015-12-11"],"labelExpr":"utcFormat(toDate(datum.value), '%-d %b %Y')","labelAngle":0,"labelAlign":"left","labelBaseline":"top","labelPadding":1,"tickSize":4,"tickColor":"#000","domainColor":"#000","labelFont":"Liberation Sans","labelFontSize":8,"labelColor":"#000","labelOverlap":false,"labelBound":false,"labelFlush":false,"grid":false}},
"y":{"field":"a","type":"quantitative","scale":{"domain":[0.00675,0.02116],"zero":false,"nice":false},
"axis":{"orient":"right","title":null,"grid":false,"values":[0.00756,0.02055],"labelExpr":"format(datum.value, '.5f')","domainColor":"#000","tickColor":"#000","tickSize":3,"labelPadding":1,"labelAlign":"left","labelBaseline":"middle","labelFont":"Liberation Sans","labelFontSize":8,"labelColor":"#000","labelOverlap":false,"labelBound":false,"labelFlush":false}}
}
}
]
}
